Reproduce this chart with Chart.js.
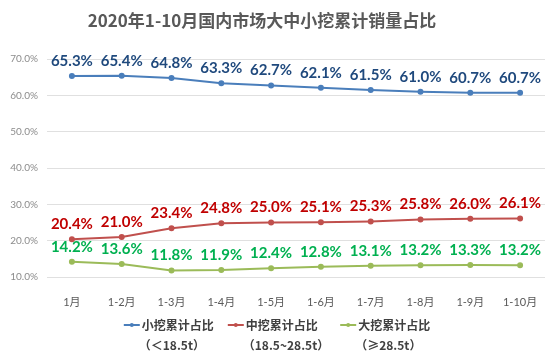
<!DOCTYPE html>
<html lang="zh-CN">
<head>
    <meta charset="UTF-8">
    <title>2020年1-10月国内市场大中小挖累计销量占比</title>
    <script src="https://cdn.jsdelivr.net/npm/chart.js"></script>
    <style>
        html, body { margin: 0; padding: 0; background: #fff; }
        #wrap { width: 554px; height: 354px; position: relative; }
    </style>
</head>
<body>
    <div id="wrap"><canvas id="myChart"></canvas></div>

    <script>
        // data
        const titleText = '2020年1-10月国内市场大中小挖累计销量占比';
        const months = ['1月', '1-2月', '1-3月', '1-4月', '1-5月', '1-6月', '1-7月', '1-8月', '1-9月', '1-10月'];
        const smallShare = [65.3, 65.4, 64.8, 63.3, 62.7, 62.1, 61.5, 61.0, 60.7, 60.7];
        const midShare = [20.4, 21.0, 23.4, 24.8, 25.0, 25.1, 25.3, 25.8, 26.0, 26.1];
        const largeShare = [14.2, 13.6, 11.8, 11.9, 12.4, 12.8, 13.1, 13.2, 13.3, 13.2];
        const seriesNames = ['小挖累计占比', '中挖累计占比', '大挖累计占比'];
        const seriesNotes = ['（＜18.5t）', '（18.5~28.5t）', '（≥28.5t）'];

        const cjkFont = '"Noto Sans CJK SC", sans-serif';
        const numFont = 'Lato, "Noto Sans CJK SC", sans-serif';
        const lineColors = ['#4a7ebb', '#c0504d', '#9bbb59'];
        const labelColors = ['#1f497d', '#c00000', '#00b050'];

        // 标题（略偏左，同原图）
        const titlePlugin = {
            id: 'titlePlugin',
            afterDraw(chart) {
                const ctx = chart.ctx;
                ctx.save();
                ctx.font = 'bold 17px ' + cjkFont;
                ctx.fillStyle = '#595959';
                ctx.textAlign = 'center';
                ctx.textBaseline = 'middle';
                ctx.fillText(titleText, chart.width / 2 - 15, 21);
                ctx.restore();
            }
        };

        // 数据标签
        const valueLabels = {
            id: 'valueLabels',
            afterDatasetsDraw(chart) {
                const ctx = chart.ctx;
                ctx.save();
                ctx.font = 'bold 15px ' + numFont;
                ctx.textAlign = 'center';
                ctx.textBaseline = 'middle';
                chart.data.datasets.forEach((ds, i) => {
                    const meta = chart.getDatasetMeta(i);
                    ctx.fillStyle = labelColors[i];
                    meta.data.forEach((pt, j) => {
                        ctx.fillText(ds.data[j].toFixed(1) + '%', pt.x, pt.y - 15);
                    });
                });
                ctx.restore();
            }
        };

        // 图例（两行）
        const legendBlock = {
            id: 'legendBlock',
            afterDraw(chart) {
                const ctx = chart.ctx;
                const sets = chart.data.datasets;
                const swatch = 16, gapText = 2, gapItem = 14;
                ctx.save();
                ctx.font = 'bold 12px ' + cjkFont;
                const widths = sets.map((ds, i) => swatch + gapText +
                    Math.max(ctx.measureText(ds.label).width, ctx.measureText(seriesNotes[i]).width - 6));
                const total = widths.reduce((a, b) => a + b, 0) + gapItem * (sets.length - 1);
                let x = chart.width / 2 - total / 2;
                const y1 = 325, y2 = 345;
                ctx.textBaseline = 'middle';
                ctx.textAlign = 'left';
                sets.forEach((ds, i) => {
                    ctx.strokeStyle = ds.borderColor;
                    ctx.lineWidth = 2;
                    ctx.beginPath();
                    ctx.moveTo(x, y1);
                    ctx.lineTo(x + swatch, y1);
                    ctx.stroke();
                    ctx.fillStyle = ds.borderColor;
                    ctx.beginPath();
                    ctx.arc(x + swatch / 2, y1, 2, 0, Math.PI * 2);
                    ctx.fill();
                    ctx.fillStyle = '#404040';
                    ctx.fillText(ds.label, x + swatch + gapText, y1);
                    ctx.fillText(seriesNotes[i], x + swatch + gapText - 3, y2);
                    x += widths[i] + gapItem;
                });
                ctx.restore();
            }
        };

        function makeSet(label, data, i) {
            return {
                label: label,
                data: data,
                borderColor: lineColors[i],
                backgroundColor: lineColors[i],
                borderWidth: 2,
                pointRadius: 2,
                pointHoverRadius: 3,
                tension: 0,
                fill: false
            };
        }

        const ctx = document.getElementById('myChart').getContext('2d');
        const chart = new Chart(ctx, {
            type: 'line',
            data: {
                labels: months,
                datasets: [
                    makeSet(seriesNames[0], smallShare, 0),
                    makeSet(seriesNames[1], midShare, 1),
                    makeSet(seriesNames[2], largeShare, 2)
                ]
            },
            options: {
                responsive: true,
                maintainAspectRatio: false,
                animation: false,
                layout: { padding: { top: 59, left: 0, right: 9, bottom: 43 } },
                plugins: {
                    legend: { display: false },
                    title: { display: false },
                    tooltip: { enabled: false }
                },
                scales: {
                    x: {
                        offset: true,
                        grid: { display: false },
                        border: { display: false },
                        ticks: {
                            color: '#595959',
                            font: { family: numFont, size: 11 },
                            padding: 11,
                            maxRotation: 0,
                            autoSkip: false
                        },
                        afterFit(scale) { scale.height = 34; }
                    },
                    y: {
                        min: 10,
                        max: 70,
                        border: { display: false },
                        grid: { color: '#e0e0e0', lineWidth: 1, drawTicks: false },
                        ticks: {
                            stepSize: 10,
                            color: '#8c8c8c',
                            font: { family: numFont, size: 10 },
                            padding: 9,
                            callback: v => v.toFixed(1) + '%'
                        },
                        afterFit(scale) { scale.width = 47; }
                    }
                }
            },
            plugins: [titlePlugin, valueLabels, legendBlock]
        });
    </script>
</body>
</html>
